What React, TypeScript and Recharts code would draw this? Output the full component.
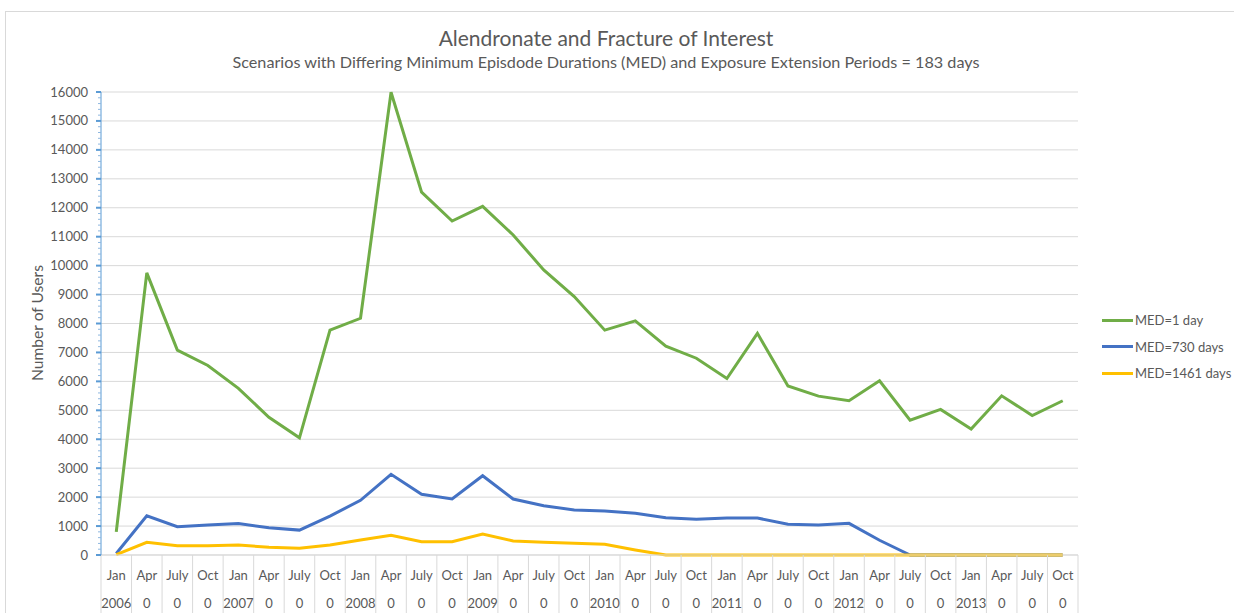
import React from 'react';
import { LineChart, Line, XAxis, YAxis, CartesianGrid } from 'recharts';

const months = [
  'Jan', 'Apr', 'July', 'Oct', 'Jan', 'Apr', 'July', 'Oct',
  'Jan', 'Apr', 'July', 'Oct', 'Jan', 'Apr', 'July', 'Oct',
  'Jan', 'Apr', 'July', 'Oct', 'Jan', 'Apr', 'July', 'Oct',
  'Jan', 'Apr', 'July', 'Oct', 'Jan', 'Apr', 'July', 'Oct',
];
const years = [
  '2006', '0', '0', '0', '2007', '0', '0', '0',
  '2008', '0', '0', '0', '2009', '0', '0', '0',
  '2010', '0', '0', '0', '2011', '0', '0', '0',
  '2012', '0', '0', '0', '2013', '0', '0', '0',
];
const med1Day = [
  800, 9750, 7080, 6550, 5760, 4760, 4050, 7770,
  8180, 15990, 12540, 11540, 12050, 11060, 9850, 8930,
  7770, 8090, 7220, 6800, 6100, 7660, 5840, 5490,
  5330, 6020, 4660, 5030, 4350, 5500, 4820, 5330,
];
const med730Days = [
  50, 1355, 975, 1035, 1090, 940, 860, 1345,
  1890, 2787, 2100, 1935, 2740, 1935, 1705, 1555,
  1520, 1440, 1290, 1233, 1275, 1278, 1060, 1037,
  1094, 510, 0, 0, 0, 0, 0, 0,
];
const med1461Days = [
  10, 437, 323, 323, 345, 265, 230, 345,
  518, 685, 461, 461, 725, 484, 438, 404,
  369, 173, 0, 0, 0, 0, 0, 0,
  0, 0, 0, 0, 0, 0, 0, 0,
];
const yMajorTicks = [0, 1000, 2000, 3000, 4000, 5000, 6000, 7000, 8000, 9000, 10000, 11000, 12000, 13000, 14000, 15000, 16000];
const yMinorStep = 200;

const seriesNames = ['MED=1 day', 'MED=730 days', 'MED=1461 days'];
const seriesColors = ['#70AD47', '#4472C4', '#FFC000'];

const data = months.map((m, i) => ({
  key: `${m} ${years[i]} ${i}`,
  med1: med1Day[i],
  med730: med730Days[i],
  med1461: med1461Days[i],
}));

const yTicks: number[] = [];
for (let v = 0; v <= 16000; v += yMinorStep) yTicks.push(v);

const W = 1234;
const H = 613;
const PLOT_LEFT = 101;
const PLOT_RIGHT = 1078;
const PLOT_TOP = 92;
const PLOT_BOTTOM = 555;
const BAND = (PLOT_RIGHT - PLOT_LEFT) / months.length;
const FONT = 'Lato, "Open Sans", sans-serif';
const TEXT = '#595959';

const YTick = (props: any) => {
  const { y, payload } = props;
  const v = payload.value as number;
  const major = yMajorTicks.includes(v);
  return (
    <g>
      <line
        x1={PLOT_LEFT - (major ? 5 : 3)}
        x2={PLOT_LEFT}
        y1={y}
        y2={y}
        stroke={major ? '#5B9BD5' : '#8FB8E0'}
        strokeWidth={major ? 2 : 1}
      />
      {major && (
        <text x={88} y={y} dy={4.5} textAnchor="end" fill={TEXT} fontSize={13} fontFamily={FONT}>
          {v}
        </text>
      )}
    </g>
  );
};

const XTick = (props: any) => {
  const { x, index } = props;
  return (
    <g>
      {index === 0 && (
        <line x1={x - BAND / 2} x2={x - BAND / 2} y1={PLOT_BOTTOM} y2={H} stroke="#D9D9D9" />
      )}
      <line x1={x + BAND / 2} x2={x + BAND / 2} y1={PLOT_BOTTOM} y2={H} stroke="#D9D9D9" />
      <text x={x} y={580} textAnchor="middle" fill={TEXT} fontSize={13} fontFamily={FONT}>
        {months[index]}
      </text>
      <text x={x} y={608} textAnchor="middle" fill={TEXT} fontSize={13} fontFamily={FONT}>
        {years[index]}
      </text>
    </g>
  );
};

const LegendBox = () => (
  <div style={{ position: 'absolute', left: 1102, top: 307, fontFamily: FONT, fontSize: 13, color: TEXT }}>
    {seriesNames.map((n, i) => (
      <div key={n} style={{ display: 'flex', alignItems: 'center', height: 26.5, whiteSpace: 'nowrap' }}>
        <div style={{ width: 31, height: 3, background: seriesColors[i], marginRight: 2 }} />
        <span>{n}</span>
      </div>
    ))}
  </div>
);

export default function App() {
  return (
    <div style={{ position: 'absolute', left: 0, top: 0, width: W, height: H, overflow: 'hidden', background: '#fff' }}>
      <div
        style={{
          position: 'absolute',
          left: 5,
          top: 11,
          width: 1300,
          height: 700,
          border: '1px solid #D9D9D9',
          boxSizing: 'border-box',
        }}
      />
      <div
        style={{
          position: 'absolute',
          left: 0,
          width: 1212,
          top: 25,
          textAlign: 'center',
          fontFamily: FONT,
          fontSize: 21,
          color: TEXT,
          lineHeight: '26px',
        }}
      >
        Alendronate and Fracture of Interest
      </div>
      <div
        style={{
          position: 'absolute',
          left: 0,
          width: 1212,
          top: 52,
          textAlign: 'center',
          fontFamily: FONT,
          fontSize: 16.2,
          color: TEXT,
          lineHeight: '20px',
        }}
      >
        Scenarios with Differing Minimum Episdode Durations (MED) and Exposure Extension Periods = 183 days
      </div>
      <div
        style={{
          position: 'absolute',
          left: 37,
          top: 323,
          transform: 'translate(-50%, -50%) rotate(-90deg)',
          whiteSpace: 'nowrap',
          fontFamily: FONT,
          fontSize: 15.6,
          color: TEXT,
        }}
      >
        Number of Users
      </div>
      <div style={{ position: 'absolute', left: 0, top: 0 }}>
        <LineChart
          width={W}
          height={H}
          data={data}
          margin={{ top: PLOT_TOP, right: W - PLOT_RIGHT, bottom: 0, left: PLOT_LEFT - 60 }}
        >
          <CartesianGrid
            vertical={false}
            stroke="#D9D9D9"
            strokeWidth={1}
            horizontalValues={yMajorTicks}
          />
          <XAxis
            dataKey="key"
            interval={0}
            height={H - PLOT_BOTTOM}
            padding={{ left: BAND / 2, right: BAND / 2 }}
            axisLine={{ stroke: '#D9D9D9' }}
            tickLine={false}
            tick={<XTick />}
          />
          <YAxis
            width={60}
            domain={[0, 16000]}
            ticks={yTicks}
            interval={0}
            axisLine={{ stroke: '#5B9BD5' }}
            tickLine={false}
            tick={<YTick />}
          />
          <Line dataKey="med1" name={seriesNames[0]} stroke={seriesColors[0]} strokeWidth={3} dot={false} isAnimationActive={false} />
          <Line dataKey="med730" name={seriesNames[1]} stroke={seriesColors[1]} strokeWidth={3} dot={false} isAnimationActive={false} />
          <Line dataKey="med1461" name={seriesNames[2]} stroke={seriesColors[2]} strokeWidth={3} dot={false} isAnimationActive={false} />
        </LineChart>
      </div>
      <LegendBox />
    </div>
  );
}
